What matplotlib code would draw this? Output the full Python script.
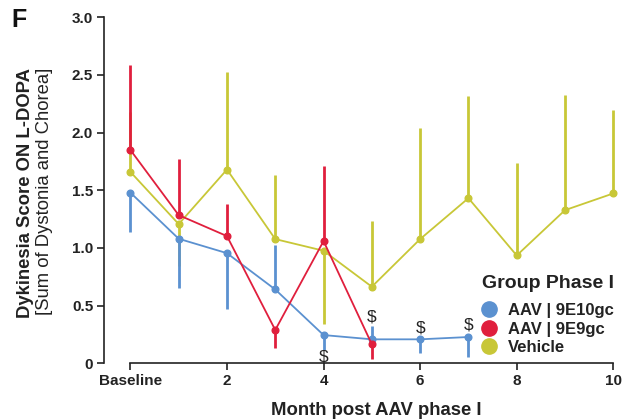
import numpy as np
import matplotlib.pyplot as plt
from matplotlib.lines import Line2D

plt.rcParams['font.family'] = ['Liberation Sans', 'DejaVu Sans']

# months (0 = baseline)
months_hi = [0, 1, 2, 3, 4, 5, 6, 7]
hi_mean = [1.48, 1.08, 0.955, 0.64, 0.245, 0.208, 0.208, 0.228]
hi_lo = [0.34, 0.425, 0.48, 0.0, 0.13, 0.0, 0.12, 0.17]
hi_up = [0.0, 0.0, 0.0, 0.385, 0.0, 0.115, 0.0, 0.0]

months_lo = [0, 1, 2, 3, 4, 5]
lo_mean = [1.85, 1.285, 1.103, 0.289, 1.06, 0.165]
lo_lo = [0.0, 0.0, 0.0, 0.16, 0.0, 0.13]
lo_up = [0.74, 0.49, 0.28, 0.0, 0.65, 0.0]

months_veh = [0, 1, 2, 3, 4, 5, 6, 7, 8, 9, 10]
veh_mean = [1.66, 1.207, 1.68, 1.077, 0.976, 0.664, 1.077, 1.432, 0.935, 1.328, 1.473]
veh_lo = [0.0, 0.36, 0.0, 0.0, 0.635, 0.0, 0.0, 0.0, 0.0, 0.0, 0.0]
veh_up = [0.52, 0.0, 0.85, 0.56, 0.0, 0.57, 0.96, 0.89, 0.80, 1.0, 0.72]

# significance marks
sig_x = [4, 5, 6, 7]
sig_y = [0.057, 0.40, 0.305, 0.33]

labels = ['AAV | 9E10gc', 'AAV | 9E9gc', 'Vehicle']
c_hi, c_lo, c_veh = '#5b91d0', '#e01f3d', '#c8c737'
dark = '#222222'

fig = plt.figure(figsize=(6.22, 4.19), dpi=100)
ax = fig.add_axes([0.1677, 0.1329, 0.986 - 0.1677, 0.9587 - 0.1329])

series = [
    (months_veh, veh_mean, veh_lo, veh_up, c_veh, 2),
    (months_hi, hi_mean, hi_lo, hi_up, c_hi, 3),
    (months_lo, lo_mean, lo_lo, lo_up, c_lo, 4),
]
for x, m, lo, up, c, z in series:
    ax.errorbar(x, m, yerr=[lo, up], color=c, lw=1.3, marker='o', ms=4.8,
                elinewidth=2.0, capsize=0, zorder=z, clip_on=False)

for x, y in zip(sig_x, sig_y):
    ax.text(x, y, '$', ha='center', va='center', fontsize=12.5, color=dark)

ax.set_xlim(-0.54, 10.0)
ax.set_ylim(0, 3)
ax.spines['top'].set_visible(False)
ax.spines['right'].set_visible(False)
ax.spines['bottom'].set_bounds(0, 10)
ax.set_xticks([0, 2, 4, 6, 8, 10])
ax.set_xticklabels(['Baseline', '2', '4', '6', '8', '10'])
ax.set_yticks([0, 0.5, 1.0, 1.5, 2.0, 2.5, 3.0])
ax.set_yticklabels(['0', '0.5', '1.0', '1.5', '2.0', '2.5', '3.0'])
ax.tick_params(labelsize=11, width=1.2, length=5, colors=dark, pad=3)
for lab in ax.get_xticklabels() + ax.get_yticklabels():
    lab.set_fontweight('bold')
for s in ['left', 'bottom']:
    ax.spines[s].set_linewidth(1.2)
    ax.spines[s].set_color(dark)

fig.text(376 / 622, 1 - 415 / 419, 'Month post AAV phase I', ha='center',
         va='baseline', fontsize=13.3, fontweight='bold', color=dark)
fig.text(25.5 / 622, 1 - 68 / 419, 'Dykinesia Score ON L-DOPA', rotation=90,
         ha='center', va='top', fontsize=13.3, fontweight='bold', color=dark)
fig.text(45 / 622, 1 - 68 / 419, '[Sum of Dystonia and Chorea]', rotation=90,
         ha='center', va='top', fontsize=13.3, color=dark)
fig.text(11 / 622, 1 - 20 / 419, 'F', fontsize=18, fontweight='bold',
         color='#111111', ha='left', va='center')

# legend: title as its own text, entries centred on the middle row
fig.text(482 / 622, 1 - 283 / 419, 'Group Phase I', ha='left', va='center',
         fontsize=14, fontweight='bold', color=dark)
handles = [Line2D([], [], ls='none', marker='o', ms=11, color=c)
           for c in (c_hi, c_lo, c_veh)]
leg = fig.legend(handles, labels, loc='center left',
                 bbox_to_anchor=(480.7 / 622, 1 - 329 / 419), frameon=False,
                 borderpad=0, borderaxespad=0, handlelength=1.0,
                 handletextpad=0.63, labelspacing=0.22,
                 prop={'size': 12, 'weight': 'bold'})
for t in leg.get_texts():
    t.set_color(dark)

fig.savefig('out.png', dpi=100)
